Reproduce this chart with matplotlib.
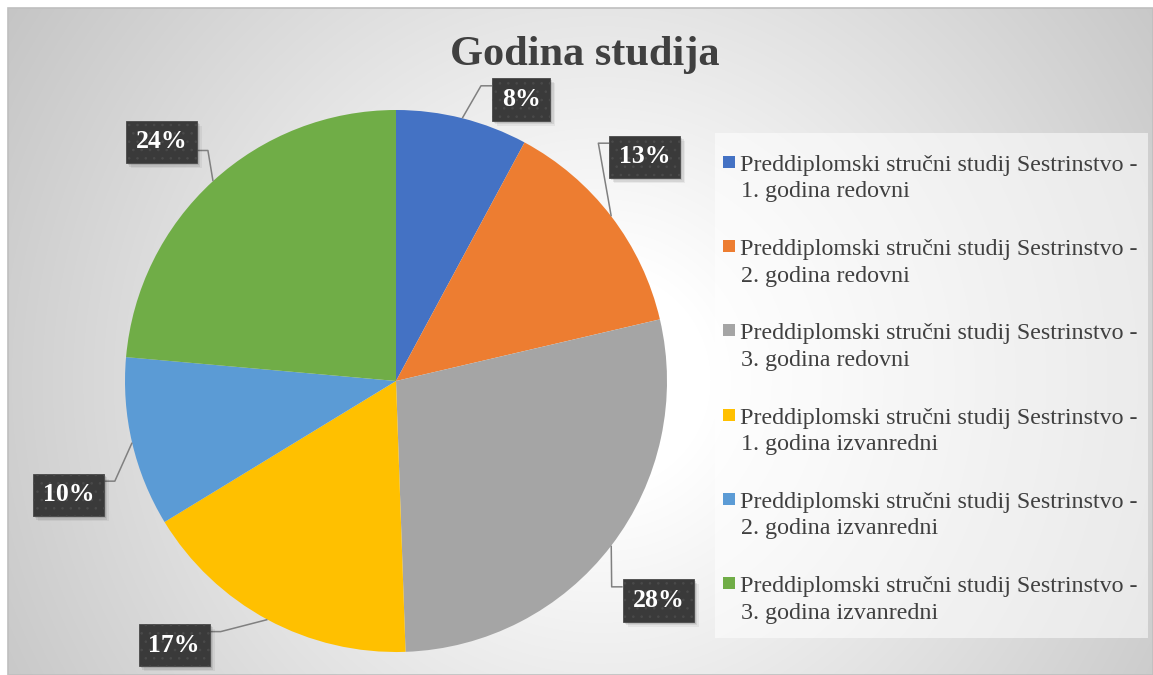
import numpy as np
import matplotlib
matplotlib.use('Agg')
import matplotlib.pyplot as plt
from matplotlib.patches import Rectangle

# data
title = "Godina studija"
categories = [
    "Preddiplomski stručni studij Sestrinstvo -\n1. godina redovni",
    "Preddiplomski stručni studij Sestrinstvo -\n2. godina redovni",
    "Preddiplomski stručni studij Sestrinstvo -\n3. godina redovni",
    "Preddiplomski stručni studij Sestrinstvo -\n1. godina izvanredni",
    "Preddiplomski stručni studij Sestrinstvo -\n2. godina izvanredni",
    "Preddiplomski stručni studij Sestrinstvo -\n3. godina izvanredni",
]
counts = [7, 12, 25, 15, 9, 21]
colors = ['#4472C4', '#ED7D31', '#A5A5A5', '#FFC000', '#5B9BD5', '#70AD47']

# layout (pixels)
W, H = 1153, 675
SERIF = 'Liberation Serif'
TXT = '#404040'
# label placement: (distance / radius, angle shift in degrees from slice middle)
label_place = [(1.137, -9.8), (1.236, 4.6), (1.262, -2.5),
               (1.273, -11.7), (1.28, 6.0), (1.236, 2.0)]
# where the leader meets the box side, fraction from the top
anchor_frac = [0.18, 0.18, 0.18, 0.18, 0.18, 0.7]

plt.rcParams['hatch.linewidth'] = 0.6

fig = plt.figure(figsize=(W / 100, H / 100), dpi=100)
fig.patch.set_facecolor('white')
ax = fig.add_axes([0, 0, 1, 1])

# background radial gradient of the chart area
x0, y0 = 8, 8
yy, xx = np.mgrid[y0:H, x0:W]
d = np.hypot(xx - 600, yy - 380)
v = np.clip((d - 110) / 610, 0, 1)
g = 1 - v * (1 - 0.765)
ax.imshow(np.dstack([g, g, g]), extent=(x0, W, 0, H - y0), origin='upper',
          zorder=0, interpolation='bilinear')
ax.add_patch(Rectangle((x0, 0), W - x0, H - y0, fill=False,
                       edgecolor='#bfbfbf', linewidth=1.2, zorder=1))

cx, cy, R = 396, H - 381, 271
wedges, _ = ax.pie(counts, colors=colors, startangle=90, counterclock=False,
                   center=(cx, cy), radius=R, frame=True,
                   wedgeprops=dict(linewidth=0, zorder=2))

ax.set_xlim(0, W)
ax.set_ylim(0, H)
ax.set_aspect('equal')
ax.axis('off')

# title
ax.text(585, H - 55, title, ha='center', va='center', fontsize=30.5,
        fontweight='bold', family=SERIF, color=TXT, zorder=7)

# data labels
total = sum(counts)
labels = []
for w, c, (k, da) in zip(wedges, counts, label_place):
    mid = np.deg2rad((w.theta1 + w.theta2) / 2)
    a = mid + np.deg2rad(da)
    lx, ly = cx + k * R * np.cos(a), cy + k * R * np.sin(a)
    t = ax.text(lx, ly, f"{round(100 * c / total)}%", ha='center',
                va='center', fontsize=18.5, fontweight='bold', family=SERIF,
                color='white', zorder=7,
                bbox=dict(boxstyle='square,pad=0.38', facecolor='#3a3a3a',
                          edgecolor='#4a4a4a', hatch='..', linewidth=0.6))
    labels.append((t, mid))

fig.canvas.draw()
for (t, mid), f in zip(labels, anchor_frac):
    bb = t.get_bbox_patch().get_window_extent()
    # soft drop shadow
    for off, al in [(2, 0.10), (3.5, 0.08), (5, 0.05)]:
        ax.add_patch(Rectangle((bb.x0 + off, bb.y0 - off), bb.width, bb.height,
                               facecolor='black', alpha=al, linewidth=0,
                               zorder=6))
    ex, ey = cx + R * np.cos(mid), cy + R * np.sin(mid)
    ay = bb.y1 - f * bb.height
    if ex < (bb.x0 + bb.x1) / 2:
        ax_, elb = bb.x0, bb.x0 - 11
    else:
        ax_, elb = bb.x1, bb.x1 + 11
    ax.plot([ex, elb, ax_], [ey, ay, ay], color='#808080', linewidth=1.1,
            zorder=4, solid_capstyle='butt')

# legend
ax.add_patch(Rectangle((715, H - 638), 433, 505, facecolor='white',
                       alpha=0.55, linewidth=0, zorder=3))
for i, (lab, c) in enumerate(zip(categories, colors)):
    base = H - 171 - 84.2 * i
    ax.add_patch(Rectangle((723, base + 3), 12, 12, facecolor=c,
                           linewidth=0, zorder=5))
    for j, line in enumerate(lab.split('\n')):
        ax.text(740 if j == 0 else 741, base - 26.5 * j, line, ha='left',
                va='baseline', fontsize=17.3, family=SERIF, color=TXT,
                zorder=5)

fig.savefig('out.png', dpi=100, facecolor='white')
